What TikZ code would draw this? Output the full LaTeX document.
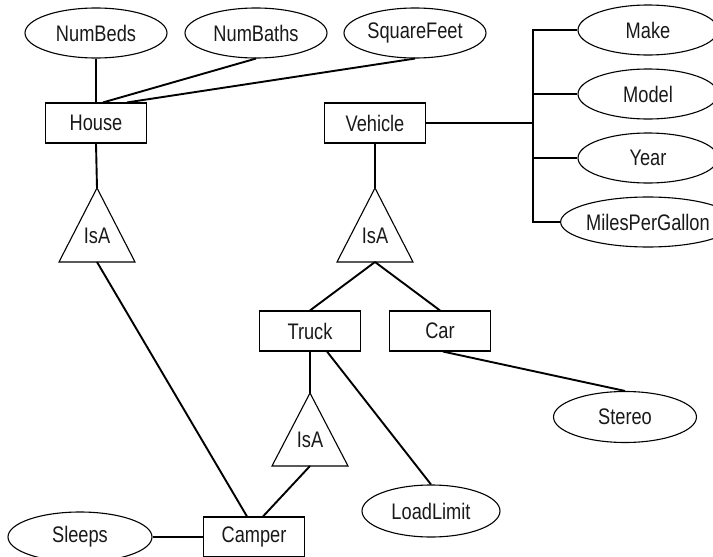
\documentclass[tikz,border=0pt]{standalone}
\usepackage{fontspec}
\setmainfont{Liberation Sans}[FakeStretch=0.81]
\usetikzlibrary{shapes.geometric}
\begin{document}
\begin{tikzpicture}[x=1pt,y=-1pt,
  every node/.style={font=\fontsize{22.5}{26}\selectfont, text=black!90},
  attr/.style={ellipse, draw, line width=1.1pt, minimum width=142pt, minimum height=50pt, inner sep=0pt},
  ent/.style={rectangle, draw, line width=1.1pt, minimum width=101pt, minimum height=40pt, inner sep=0pt},
  conn/.style={line width=1.9pt},
  tri/.style={draw, line width=1.1pt, line join=miter}]
\useasboundingbox (0,0) rectangle (713,557);
\clip (0,0) rectangle (713,557);
% attributes
\node[attr] (numbeds) at (96,33) {NumBeds};
\node[attr] (numbaths) at (256,33) {NumBaths};
\node[attr] (sqft) at (415,33) {SquareFeet};
\node[attr, minimum width=140pt] (make) at (648,30) {Make};
\node[attr, minimum width=140pt] (model) at (648,94) {Model};
\node[attr, minimum width=140pt] (year) at (648,158) {Year};
\node[attr, minimum width=140pt] (mpg) at (648,222) {MilesPerGallon};
\node[attr, minimum width=138pt, minimum height=52pt] (loadlimit) at (431,511) {LoadLimit};
\node[attr, minimum width=143pt, minimum height=51pt] (stereo) at (625,417) {Stereo};
\node[attr, minimum width=144pt] (sleeps) at (80,537) {Sleeps};
% entities
\node[ent] (house) at (96,123) {House};
\node[ent] (vehicle) at (375,123) {Vehicle};
\node[ent] (truck) at (310,331) {Truck};
\node[ent] (car) at (440,331) {Car};
\node[ent] (camper) at (254,537) {Camper};
% IsA triangles
\coordinate (isa1top) at (97,188); \coordinate (isa1bot) at (97,262);
\draw[tri] (isa1top) -- (135,262) -- (59,262) -- cycle;
\node (isa1) at (97,236) {IsA};
\coordinate (isa2top) at (375,188); \coordinate (isa2bot) at (375,262);
\draw[tri] (isa2top) -- (413,262) -- (337,262) -- cycle;
\node (isa2) at (375,236) {IsA};
\coordinate (isa3top) at (310,393); \coordinate (isa3bot) at (310,466);
\draw[tri] (isa3top) -- (348,466) -- (272,466) -- cycle;
\node (isa3) at (310,440) {IsA};
% connectors
\draw[conn] (numbeds.south) -- (house.north);
\draw[conn] (numbaths.south) -- (house.north -| 103,0);
\draw[conn] (sqft.south) -- (house.north -| 127,0);
\draw[conn] (house.south) -- (isa1top);
\draw[conn] (isa1bot) -- (camper.north -| 247,0);
\draw[conn] (vehicle.south) -- (isa2top);
\draw[conn] (isa2bot) -- (truck.north);
\draw[conn] (isa2bot) -- (car.north);
\coordinate (br) at (533,123);
\draw[conn] (vehicle.east) -- (br);
\draw[conn] (make.west) -| (br) |- (mpg.west);
\draw[conn] (model.west) -- (model.west -| br);
\draw[conn] (year.west) -- (year.west -| br);
\draw[conn] (truck.south) -- (isa3top);
\draw[conn] (isa3bot) -- (camper.north -| 263,0);
\draw[conn] (truck.south -| 327,0) -- (loadlimit.north);
\draw[conn] (car.south -| 443,0) -- (stereo.north);
\draw[conn] (sleeps.east) -- (camper.west);
\end{tikzpicture}
\end{document}
